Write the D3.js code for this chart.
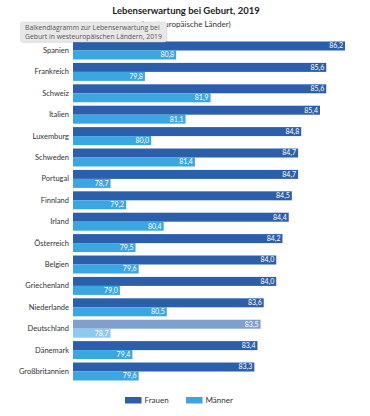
<!DOCTYPE html>
<html>
<head>
<meta charset="utf-8">
<script src="https://cdn.jsdelivr.net/npm/d3@7"></script>
<style>
  body { margin: 0; background: #fff; }
  svg { font-family: Lato, "Open Sans", sans-serif; }
</style>
</head>
<body>
<div class="svg-container"></div>
<script>
var width = 370;
var height = 416;

var countries = ["Spanien", "Frankreich", "Schweiz", "Italien", "Luxemburg", "Schweden", "Portugal", "Finnland",
                 "Irland", "Österreich", "Belgien", "Griechenland", "Niederlande", "Deutschland", "Dänemark", "Großbritannien"];
var frauen = [86.2, 85.6, 85.6, 85.4, 84.8, 84.7, 84.7, 84.5, 84.4, 84.2, 84.0, 84.0, 83.6, 83.5, 83.4, 83.3];
var maenner = [80.8, 79.8, 81.9, 81.1, 80.0, 81.4, 78.7, 79.2, 80.4, 79.5, 79.6, 79.0, 80.5, 78.7, 79.4, 79.6];
var seriesNames = ["Frauen", "Männer"];
var highlight = "Deutschland";

var colors = {Frauen: "#2c5fab", "Männer": "#3ba6df"};
var colorsHl = {Frauen: "#809fcd", "Männer": "#8ccbed"};

var svg = d3.select(".svg-container").append("svg")
            .attr("width", width)
            .attr("height", height);

var x = d3.scaleLinear().domain([77.5, 86.2]).range([73, 345]);
var y = d3.scaleBand().domain(countries).range([41.5, 41.5 + 16 * 21.4 - 3.4]).paddingInner(0.16);
var ySub = d3.scaleBand().domain(seriesNames).range([0, y.bandwidth()]);

var fmt = function(v) { return d3.format(".1f")(v).replace(".", ","); };

// title + subtitle
svg.append("text").attr("x", 186).attr("y", 14)
   .attr("text-anchor", "middle").style("font-size", "9.5px").style("font-weight", "bold").style("fill", "#222")
   .text("Lebenserwartung bei Geburt, 2019");
svg.append("text").attr("x", 186).attr("y", 27)
   .attr("text-anchor", "middle").style("font-size", "8px").style("fill", "#333")
   .text("(westeuropäische Länder)");

// axis labels
var yAxis = d3.axisLeft(y).tickSize(0).tickPadding(4);
var gy = svg.append("g").attr("transform", "translate(73,0)").call(yAxis);
gy.select(".domain").remove();
gy.selectAll("text").style("font-size", "7.5px").style("fill", "#333").style("font-family", "Lato, sans-serif");

var rows = countries.map(function(c, i) {
  return {country: c, values: [{s: "Frauen", v: frauen[i]}, {s: "Männer", v: maenner[i]}]};
});

var groups = svg.selectAll("g.row").data(rows).enter().append("g")
                .attr("class", "row")
                .attr("transform", function(d) { return "translate(0," + y(d.country) + ")"; });

groups.selectAll("rect").data(function(d) { return d.values.map(function(e) { e.c = d.country; return e; }); })
      .enter().append("rect")
      .attr("x", x.range()[0])
      .attr("y", function(d) { return ySub(d.s); })
      .attr("width", function(d) { return x(d.v) - x.range()[0]; })
      .attr("height", ySub.bandwidth())
      .style("fill", function(d) { return d.c == highlight ? colorsHl[d.s] : colors[d.s]; });

groups.selectAll("text.val").data(function(d) { return d.values; })
      .enter().append("text")
      .attr("class", "val")
      .attr("x", function(d) { return x(d.v) - 2; })
      .attr("y", function(d) { return ySub(d.s) + ySub.bandwidth() / 2; })
      .attr("dy", "0.35em")
      .attr("text-anchor", "end")
      .style("font-size", "7px")
      .style("fill", "#fff")
      .text(function(d) { return fmt(d.v); });

// legend
var legendX = [125, 186];
var legend = svg.selectAll("g.legend").data(seriesNames).enter().append("g")
                .attr("class", "legend")
                .attr("transform", function(d, i) { return "translate(" + legendX[i] + ",397)"; });
legend.append("rect").attr("width", 16.5).attr("height", 6.5)
      .style("fill", function(d) { return colors[d]; });
legend.append("text").attr("x", 19.5).attr("y", 3.3).attr("dy", "0.35em")
      .style("font-size", "8px").style("fill", "#333")
      .text(function(d) { return d; });

// tooltip overlay
var tip = svg.append("g").attr("transform", "translate(20.5,22)");
tip.append("rect").attr("x", 1).attr("y", 1).attr("width", 146).attr("height", 20).attr("rx", 2)
   .style("fill", "#000").style("opacity", 0.08);
tip.append("rect").attr("width", 146).attr("height", 20).attr("rx", 2)
   .style("fill", "#e8e8e8").style("stroke", "#d6d6d6").style("stroke-width", 0.5);
tip.append("text").attr("x", 4.5).attr("y", 8.3)
   .style("font-size", "6.8px").style("fill", "#555").style("font-family", "'Open Sans', sans-serif")
   .text("Balkendiagramm zur Lebenserwartung bei");
tip.append("text").attr("x", 4.5).attr("y", 16.5)
   .style("font-size", "6.8px").style("fill", "#555").style("font-family", "'Open Sans', sans-serif")
   .text("Geburt in westeuropäischen Ländern, 2019");
</script>
</body>
</html>
